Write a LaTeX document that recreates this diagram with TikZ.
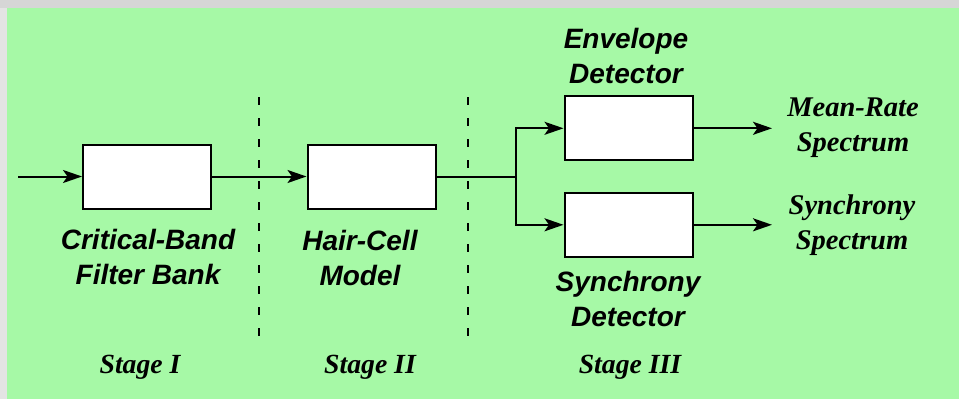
\documentclass[tikz,border=0pt]{standalone}
\usepackage{fontspec}
\setmainfont{Liberation Serif}
\setsansfont{Liberation Sans}
\usetikzlibrary{arrows.meta}
\definecolor{panelgreen}{HTML}{A6F9A6}
\definecolor{edgegray}{HTML}{D6D6D6}
\definecolor{sidegray}{HTML}{E4E4E4}
\begin{document}
\begin{tikzpicture}[x=1pt,y=-1pt,
  block/.style={draw=black,fill=white,line width=2pt,minimum width=128pt,minimum height=64pt,inner sep=0pt},
  flow/.style={line width=2pt,-{Stealth[length=19pt,width=13pt,inset=4.5pt]}},
  wire/.style={line width=2pt},
  divider/.style={line width=1.6pt,dash pattern=on 8pt off 13pt},
  blocklabel/.style={font=\sffamily\bfseries\itshape\fontsize{28}{35}\selectfont,align=center,anchor=base,inner sep=0pt},
  outlabel/.style={font=\rmfamily\bfseries\itshape\fontsize{28.5}{35}\selectfont,align=center,anchor=base,inner sep=0pt},
  stagelabel/.style={font=\rmfamily\bfseries\itshape\fontsize{27.7}{32}\selectfont,anchor=base,inner sep=0pt}]
  % background panel
  \useasboundingbox (0,0) rectangle (959,399);
  \fill[sidegray] (0,0) rectangle (959,399);
  \fill[edgegray] (0,0) rectangle (959,8);
  \fill[panelgreen] (7,8) rectangle (959,399);

  % stage dividers
  \coordinate (d1t) at (259,97);  \coordinate (d1b) at (259,338);
  \coordinate (d2t) at (468,97);  \coordinate (d2b) at (468,338);
  \draw[divider] (d1t) -- (d1b);
  \draw[divider] (d2t) -- (d2b);

  % processing blocks
  \node[block] (filt) at (147,176.5) {};
  \node[block] (hair) at (371.5,176.5) {};
  \node[block] (env)  at (628.5,128.3) {};
  \node[block] (sync) at (628.5,224.8) {};

  % signal path
  \coordinate (in) at (18,176.5);
  \coordinate (split) at (516,176.5);
  \coordinate (outA) at (772,128.3);
  \coordinate (outB) at (772,224.8);
  \draw[flow] (in) -- (filt.west);
  \draw[flow] (filt.east) -- (hair.west);
  \draw[wire] (hair.east) -- (split);
  \draw[flow] (split) |- (env.west);
  \draw[flow] (split) |- (sync.west);
  \draw[flow] (env.east) -- (outA);
  \draw[flow] (sync.east) -- (outB);

  % block names (anchored at the baseline of the last line)
  \node[blocklabel] (filtname) at (148,284) {Critical-Band\\Filter Bank};
  \node[blocklabel] (hairname) at (360,285.7) {Hair-Cell\\Model};
  \node[blocklabel] (envname)  at (626,83) {Envelope\\Detector};
  \node[blocklabel] (syncname) at (628,326) {Synchrony\\Detector};

  % outputs
  \node[outlabel] (outAname) at (853,151.7) {Mean-Rate\\Spectrum};
  \node[outlabel] (outBname) at (852,249) {Synchrony\\Spectrum};

  % stages
  \node[stagelabel] (s1) at (140,373) {Stage I};
  \node[stagelabel] (s2) at (370,373) {Stage II};
  \node[stagelabel] (s3) at (630,373) {Stage III};
\end{tikzpicture}
\end{document}
